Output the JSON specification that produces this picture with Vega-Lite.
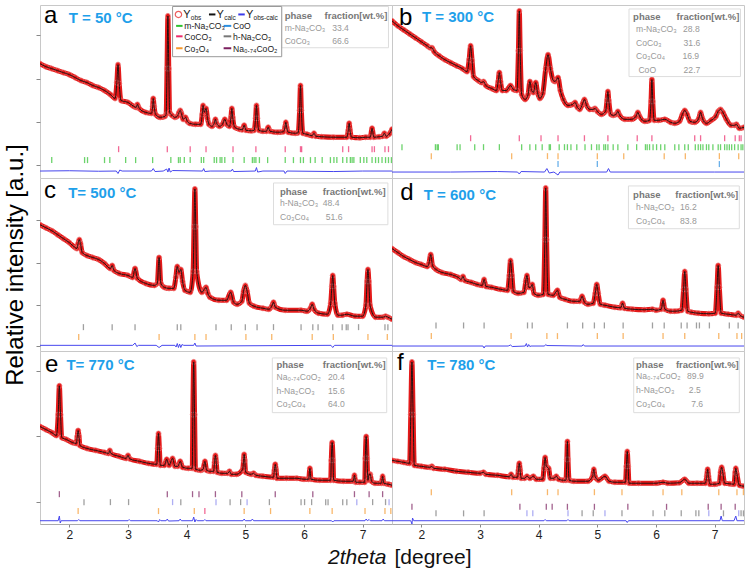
{
"$schema":"https://vega.github.io/schema/vega-lite/v6.json",
"padding":{"left":2,"top":3,"right":2,"bottom":2},
"config":{"view":{"stroke":"#c8c8c8"},"font":"Liberation Sans"},
"datasets":{
"d":[
{"p":"a","k":"pr","x":1.5,"y":115},{"p":"a","k":"pr","x":1.6,"y":112},{"p":"a","k":"pr","x":1.7,"y":110},{"p":"a","k":"pr","x":1.8,"y":108},{"p":"a","k":"pr","x":1.9,"y":106},{"p":"a","k":"pr","x":2.0,"y":104},{"p":"a","k":"pr","x":2.1,"y":101},{"p":"a","k":"pr","x":2.2,"y":98},{"p":"a","k":"pr","x":2.3,"y":96},{"p":"a","k":"pr","x":2.4,"y":93},{"p":"a","k":"pr","x":2.5,"y":91},{"p":"a","k":"pr","x":2.6,"y":88},{"p":"a","k":"pr","x":2.7,"y":84},{"p":"a","k":"pr","x":2.78,"y":80},{"p":"a","k":"pr","x":2.81,"y":96},{"p":"a","k":"pr","x":2.83,"y":114},{"p":"a","k":"pr","x":2.85,"y":95},{"p":"a","k":"pr","x":2.88,"y":78},{"p":"a","k":"pr","x":3.0,"y":76},{"p":"a","k":"pr","x":3.1,"y":72},{"p":"a","k":"pr","x":3.14,"y":71},{"p":"a","k":"pr","x":3.16,"y":74},{"p":"a","k":"pr","x":3.19,"y":70},{"p":"a","k":"pr","x":3.3,"y":66},{"p":"a","k":"pr","x":3.4,"y":65},{"p":"a","k":"pr","x":3.42,"y":72},{"p":"a","k":"pr","x":3.43,"y":80},{"p":"a","k":"pr","x":3.445,"y":72},{"p":"a","k":"pr","x":3.47,"y":64},{"p":"a","k":"pr","x":3.55,"y":61},{"p":"a","k":"pr","x":3.63,"y":62},{"p":"a","k":"pr","x":3.65,"y":64},{"p":"a","k":"pr","x":3.665,"y":110},{"p":"a","k":"pr","x":3.68,"y":163},{"p":"a","k":"pr","x":3.695,"y":110},{"p":"a","k":"pr","x":3.71,"y":66},{"p":"a","k":"pr","x":3.75,"y":63},{"p":"a","k":"pr","x":3.8,"y":61},{"p":"a","k":"pr","x":3.84,"y":62},{"p":"a","k":"pr","x":3.87,"y":66},{"p":"a","k":"pr","x":3.89,"y":68},{"p":"a","k":"pr","x":3.91,"y":65},{"p":"a","k":"pr","x":3.94,"y":59},{"p":"a","k":"pr","x":3.98,"y":61},{"p":"a","k":"pr","x":4.01,"y":57},{"p":"a","k":"pr","x":4.05,"y":55},{"p":"a","k":"pr","x":4.15,"y":54},{"p":"a","k":"pr","x":4.24,"y":54},{"p":"a","k":"pr","x":4.265,"y":64},{"p":"a","k":"pr","x":4.28,"y":73},{"p":"a","k":"pr","x":4.3,"y":66},{"p":"a","k":"pr","x":4.33,"y":70},{"p":"a","k":"pr","x":4.355,"y":60},{"p":"a","k":"pr","x":4.38,"y":54},{"p":"a","k":"pr","x":4.43,"y":52},{"p":"a","k":"pr","x":4.47,"y":55},{"p":"a","k":"pr","x":4.49,"y":59},{"p":"a","k":"pr","x":4.51,"y":55},{"p":"a","k":"pr","x":4.56,"y":52},{"p":"a","k":"pr","x":4.61,"y":54},{"p":"a","k":"pr","x":4.65,"y":59},{"p":"a","k":"pr","x":4.685,"y":54},{"p":"a","k":"pr","x":4.73,"y":52},{"p":"a","k":"pr","x":4.755,"y":61},{"p":"a","k":"pr","x":4.77,"y":70},{"p":"a","k":"pr","x":4.785,"y":61},{"p":"a","k":"pr","x":4.82,"y":51},{"p":"a","k":"pr","x":4.9,"y":49},{"p":"a","k":"pr","x":4.95,"y":48.5},{"p":"a","k":"pr","x":4.98,"y":53},{"p":"a","k":"pr","x":5.01,"y":48},{"p":"a","k":"pr","x":5.1,"y":47.5},{"p":"a","k":"pr","x":5.15,"y":48},{"p":"a","k":"pr","x":5.175,"y":60},{"p":"a","k":"pr","x":5.19,"y":73},{"p":"a","k":"pr","x":5.205,"y":60},{"p":"a","k":"pr","x":5.23,"y":48},{"p":"a","k":"pr","x":5.3,"y":47},{"p":"a","k":"pr","x":5.36,"y":47},{"p":"a","k":"pr","x":5.39,"y":51},{"p":"a","k":"pr","x":5.42,"y":47},{"p":"a","k":"pr","x":5.55,"y":46},{"p":"a","k":"pr","x":5.65,"y":46.5},{"p":"a","k":"pr","x":5.675,"y":51},{"p":"a","k":"pr","x":5.69,"y":56},{"p":"a","k":"pr","x":5.705,"y":51},{"p":"a","k":"pr","x":5.73,"y":46},{"p":"a","k":"pr","x":5.85,"y":45},{"p":"a","k":"pr","x":5.9,"y":45.5},{"p":"a","k":"pr","x":5.925,"y":68},{"p":"a","k":"pr","x":5.94,"y":93},{"p":"a","k":"pr","x":5.955,"y":68},{"p":"a","k":"pr","x":5.98,"y":45},{"p":"a","k":"pr","x":6.05,"y":44},{"p":"a","k":"pr","x":6.14,"y":42.5},{"p":"a","k":"pr","x":6.17,"y":45},{"p":"a","k":"pr","x":6.2,"y":42},{"p":"a","k":"pr","x":6.3,"y":41.5},{"p":"a","k":"pr","x":6.5,"y":41},{"p":"a","k":"pr","x":6.73,"y":41},{"p":"a","k":"pr","x":6.755,"y":48},{"p":"a","k":"pr","x":6.77,"y":55},{"p":"a","k":"pr","x":6.785,"y":48},{"p":"a","k":"pr","x":6.81,"y":41},{"p":"a","k":"pr","x":6.95,"y":40.5},{"p":"a","k":"pr","x":7.05,"y":41},{"p":"a","k":"pr","x":7.13,"y":41},{"p":"a","k":"pr","x":7.16,"y":50},{"p":"a","k":"pr","x":7.19,"y":41},{"p":"a","k":"pr","x":7.28,"y":41.5},{"p":"a","k":"pr","x":7.34,"y":42},{"p":"a","k":"pr","x":7.37,"y":45},{"p":"a","k":"pr","x":7.4,"y":42},{"p":"a","k":"pr","x":7.45,"y":44},{"p":"a","k":"pr","x":7.5,"y":49},
{"p":"a","k":"dif","x":1.5,"y":7},{"p":"a","k":"dif","x":2.0,"y":7.3},{"p":"a","k":"dif","x":2.5,"y":6.8},{"p":"a","k":"dif","x":2.8,"y":7},{"p":"a","k":"dif","x":2.83,"y":4.5},{"p":"a","k":"dif","x":2.86,"y":8},{"p":"a","k":"dif","x":2.9,"y":7},{"p":"a","k":"dif","x":3.4,"y":7},{"p":"a","k":"dif","x":3.43,"y":9.5},{"p":"a","k":"dif","x":3.46,"y":6.5},{"p":"a","k":"dif","x":3.6,"y":7},{"p":"a","k":"dif","x":3.66,"y":9},{"p":"a","k":"dif","x":3.68,"y":6},{"p":"a","k":"dif","x":3.7,"y":10},{"p":"a","k":"dif","x":3.72,"y":6},{"p":"a","k":"dif","x":3.76,"y":7.5},{"p":"a","k":"dif","x":4.27,"y":7},{"p":"a","k":"dif","x":4.29,"y":9.5},{"p":"a","k":"dif","x":4.31,"y":6.5},{"p":"a","k":"dif","x":4.4,"y":7},{"p":"a","k":"dif","x":4.76,"y":7},{"p":"a","k":"dif","x":4.78,"y":9},{"p":"a","k":"dif","x":4.8,"y":6.5},{"p":"a","k":"dif","x":5.17,"y":7},{"p":"a","k":"dif","x":5.19,"y":10.5},{"p":"a","k":"dif","x":5.21,"y":6},{"p":"a","k":"dif","x":5.3,"y":7},{"p":"a","k":"dif","x":5.66,"y":7},{"p":"a","k":"dif","x":5.68,"y":4.5},{"p":"a","k":"dif","x":5.71,"y":7},{"p":"a","k":"dif","x":6.5,"y":6.5},{"p":"a","k":"dif","x":7.0,"y":7},{"p":"a","k":"dif","x":7.5,"y":7},
{"p":"a","k":"tk","ph":"CoCO3","x":2.84,"y":29},{"p":"a","k":"tk","ph":"CoCO3","x":3.67,"y":29},{"p":"a","k":"tk","ph":"CoCO3","x":4.06,"y":29},{"p":"a","k":"tk","ph":"CoCO3","x":4.33,"y":29},{"p":"a","k":"tk","ph":"CoCO3","x":4.79,"y":29},{"p":"a","k":"tk","ph":"CoCO3","x":5.18,"y":29},{"p":"a","k":"tk","ph":"CoCO3","x":5.68,"y":29},{"p":"a","k":"tk","ph":"CoCO3","x":5.94,"y":29},{"p":"a","k":"tk","ph":"CoCO3","x":5.96,"y":29},{"p":"a","k":"tk","ph":"CoCO3","x":6.66,"y":29},{"p":"a","k":"tk","ph":"CoCO3","x":6.76,"y":29},{"p":"a","k":"tk","ph":"CoCO3","x":7.16,"y":29},{"p":"a","k":"tk","ph":"CoCO3","x":7.2,"y":29},{"p":"a","k":"tk","ph":"CoCO3","x":7.38,"y":29},{"p":"a","k":"tk","ph":"CoCO3","x":7.44,"y":29},
{"p":"a","k":"tk","ph":"m-Na2CO3","x":1.7,"y":18},{"p":"a","k":"tk","ph":"m-Na2CO3","x":2.26,"y":18},{"p":"a","k":"tk","ph":"m-Na2CO3","x":2.31,"y":18},{"p":"a","k":"tk","ph":"m-Na2CO3","x":2.6,"y":18},{"p":"a","k":"tk","ph":"m-Na2CO3","x":2.69,"y":18},{"p":"a","k":"tk","ph":"m-Na2CO3","x":2.96,"y":18},{"p":"a","k":"tk","ph":"m-Na2CO3","x":3.13,"y":18},{"p":"a","k":"tk","ph":"m-Na2CO3","x":3.42,"y":18},{"p":"a","k":"tk","ph":"m-Na2CO3","x":3.73,"y":18},{"p":"a","k":"tk","ph":"m-Na2CO3","x":3.86,"y":18},{"p":"a","k":"tk","ph":"m-Na2CO3","x":3.89,"y":18},{"p":"a","k":"tk","ph":"m-Na2CO3","x":3.96,"y":18},{"p":"a","k":"tk","ph":"m-Na2CO3","x":4.06,"y":18},{"p":"a","k":"tk","ph":"m-Na2CO3","x":4.25,"y":18},{"p":"a","k":"tk","ph":"m-Na2CO3","x":4.29,"y":18},{"p":"a","k":"tk","ph":"m-Na2CO3","x":4.47,"y":18},{"p":"a","k":"tk","ph":"m-Na2CO3","x":4.51,"y":18},{"p":"a","k":"tk","ph":"m-Na2CO3","x":4.57,"y":18},{"p":"a","k":"tk","ph":"m-Na2CO3","x":4.6,"y":18},{"p":"a","k":"tk","ph":"m-Na2CO3","x":4.65,"y":18},{"p":"a","k":"tk","ph":"m-Na2CO3","x":4.79,"y":18},{"p":"a","k":"tk","ph":"m-Na2CO3","x":4.98,"y":18},{"p":"a","k":"tk","ph":"m-Na2CO3","x":5.12,"y":18},{"p":"a","k":"tk","ph":"m-Na2CO3","x":5.15,"y":18},{"p":"a","k":"tk","ph":"m-Na2CO3","x":5.18,"y":18},{"p":"a","k":"tk","ph":"m-Na2CO3","x":5.24,"y":18},{"p":"a","k":"tk","ph":"m-Na2CO3","x":5.38,"y":18},{"p":"a","k":"tk","ph":"m-Na2CO3","x":5.68,"y":18},{"p":"a","k":"tk","ph":"m-Na2CO3","x":5.82,"y":18},{"p":"a","k":"tk","ph":"m-Na2CO3","x":5.94,"y":18},{"p":"a","k":"tk","ph":"m-Na2CO3","x":5.99,"y":18},{"p":"a","k":"tk","ph":"m-Na2CO3","x":6.11,"y":18},{"p":"a","k":"tk","ph":"m-Na2CO3","x":6.19,"y":18},{"p":"a","k":"tk","ph":"m-Na2CO3","x":6.31,"y":18},{"p":"a","k":"tk","ph":"m-Na2CO3","x":6.45,"y":18},{"p":"a","k":"tk","ph":"m-Na2CO3","x":6.51,"y":18},{"p":"a","k":"tk","ph":"m-Na2CO3","x":6.56,"y":18},{"p":"a","k":"tk","ph":"m-Na2CO3","x":6.66,"y":18},{"p":"a","k":"tk","ph":"m-Na2CO3","x":6.73,"y":18},{"p":"a","k":"tk","ph":"m-Na2CO3","x":6.79,"y":18},{"p":"a","k":"tk","ph":"m-Na2CO3","x":6.82,"y":18},{"p":"a","k":"tk","ph":"m-Na2CO3","x":6.85,"y":18},{"p":"a","k":"tk","ph":"m-Na2CO3","x":6.96,"y":18},{"p":"a","k":"tk","ph":"m-Na2CO3","x":7.02,"y":18},{"p":"a","k":"tk","ph":"m-Na2CO3","x":7.07,"y":18},{"p":"a","k":"tk","ph":"m-Na2CO3","x":7.16,"y":18},{"p":"a","k":"tk","ph":"m-Na2CO3","x":7.22,"y":18},{"p":"a","k":"tk","ph":"m-Na2CO3","x":7.27,"y":18},{"p":"a","k":"tk","ph":"m-Na2CO3","x":7.33,"y":18},{"p":"a","k":"tk","ph":"m-Na2CO3","x":7.39,"y":18},{"p":"a","k":"tk","ph":"m-Na2CO3","x":7.44,"y":18},{"p":"a","k":"tk","ph":"m-Na2CO3","x":7.49,"y":18},
{"p":"a","k":"box","x":5.62,"x2":7.44,"y":131,"y2":172.5},{"p":"a","k":"lbox","x":3.76,"x2":5.62,"y":122,"y2":172.5},
{"p":"a","k":"let","x":1.57,"y":156,"t":"a"},{"p":"a","k":"tmp","x":1.99,"y":156,"t":"T = 50 °C"},
{"p":"a","k":"hd","x":5.67,"y":160,"t":"phase"},{"p":"a","k":"hd","x":6.35,"y":160,"t":"fraction[wt.%]"},
{"p":"a","k":"tb","x":5.67,"y":148,"t":"m-Na₂CO₃"},{"p":"a","k":"tb","x":6.48,"y":148,"t":"33.4"},{"p":"a","k":"tb","x":5.67,"y":135,"t":"CoCo₃"},{"p":"a","k":"tb","x":6.48,"y":135,"t":"66.6"},
{"p":"a","k":"lgc","x":3.86,"y":164.5},
{"p":"a","k":"lgl","ph":"Ycalc","x":4.38,"x2":4.49,"y":164.5},{"p":"a","k":"lgl","ph":"Yobs-calc","x":4.88,"x2":4.99,"y":164.5},
{"p":"a","k":"lgl","ph":"m-Na2CO3","x":3.82,"x2":3.93,"y":153},{"p":"a","k":"lgl","ph":"CoO","x":4.63,"x2":4.76,"y":153},
{"p":"a","k":"lgl","ph":"CoCO3","x":3.82,"x2":3.93,"y":142.5},{"p":"a","k":"lgl","ph":"h-Na2CO3","x":4.63,"x2":4.76,"y":142.5},
{"p":"a","k":"lgl","ph":"Co3O4","x":3.82,"x2":3.93,"y":130.5},{"p":"a","k":"lgl","ph":"Na0.74CoO2","x":4.63,"x2":4.76,"y":130.5},
{"p":"a","k":"lgY","x":3.94,"y":161,"t":"Y"},{"p":"a","k":"lgY","x":4.51,"y":161,"t":"Y"},{"p":"a","k":"lgY","x":5.01,"y":161,"t":"Y"},
{"p":"a","k":"lgs","x":4.07,"y":159,"t":"obs"},{"p":"a","k":"lgs","x":4.64,"y":159,"t":"calc"},{"p":"a","k":"lgs","x":5.14,"y":159,"t":"obs-calc"},
{"p":"a","k":"lg","x":3.96,"y":150,"t":"m-Na₂CO₃"},{"p":"a","k":"lg","x":4.79,"y":150,"t":"CoO"},{"p":"a","k":"lg","x":3.96,"y":138.7,"t":"CoCO₃"},{"p":"a","k":"lg","x":4.79,"y":138.7,"t":"h-Na₂CO₃"},{"p":"a","k":"lg","x":3.96,"y":126.7,"t":"Co₃O₄"},{"p":"a","k":"lg","x":4.79,"y":126.7,"t":"Na₀.₇₄CoO₂"},

{"p":"b","k":"pr","x":1.5,"y":158},{"p":"b","k":"pr","x":1.6,"y":153},{"p":"b","k":"pr","x":1.7,"y":149},{"p":"b","k":"pr","x":1.8,"y":145},{"p":"b","k":"pr","x":1.9,"y":141},{"p":"b","k":"pr","x":2.0,"y":137},{"p":"b","k":"pr","x":2.1,"y":133},{"p":"b","k":"pr","x":2.15,"y":131},{"p":"b","k":"pr","x":2.18,"y":131},{"p":"b","k":"pr","x":2.22,"y":127},{"p":"b","k":"pr","x":2.3,"y":123},{"p":"b","k":"pr","x":2.4,"y":119},{"p":"b","k":"pr","x":2.5,"y":116},{"p":"b","k":"pr","x":2.6,"y":113},{"p":"b","k":"pr","x":2.7,"y":110},{"p":"b","k":"pr","x":2.78,"y":107},{"p":"b","k":"pr","x":2.815,"y":119},{"p":"b","k":"pr","x":2.84,"y":133},{"p":"b","k":"pr","x":2.865,"y":118},{"p":"b","k":"pr","x":2.89,"y":102},{"p":"b","k":"pr","x":2.97,"y":98},{"p":"b","k":"pr","x":3.03,"y":96},{"p":"b","k":"pr","x":3.06,"y":97},{"p":"b","k":"pr","x":3.1,"y":93},{"p":"b","k":"pr","x":3.2,"y":90},{"p":"b","k":"pr","x":3.28,"y":88},{"p":"b","k":"pr","x":3.31,"y":97},{"p":"b","k":"pr","x":3.33,"y":106},{"p":"b","k":"pr","x":3.35,"y":97},{"p":"b","k":"pr","x":3.38,"y":88},{"p":"b","k":"pr","x":3.45,"y":88},{"p":"b","k":"pr","x":3.52,"y":93},{"p":"b","k":"pr","x":3.57,"y":89},{"p":"b","k":"pr","x":3.63,"y":88},{"p":"b","k":"pr","x":3.655,"y":128},{"p":"b","k":"pr","x":3.67,"y":168},{"p":"b","k":"pr","x":3.685,"y":128},{"p":"b","k":"pr","x":3.71,"y":84},{"p":"b","k":"pr","x":3.77,"y":79},{"p":"b","k":"pr","x":3.82,"y":84},{"p":"b","k":"pr","x":3.85,"y":97},{"p":"b","k":"pr","x":3.88,"y":88},{"p":"b","k":"pr","x":3.91,"y":86},{"p":"b","k":"pr","x":3.95,"y":96},{"p":"b","k":"pr","x":3.98,"y":86},{"p":"b","k":"pr","x":4.02,"y":80},{"p":"b","k":"pr","x":4.07,"y":85},{"p":"b","k":"pr","x":4.12,"y":110},{"p":"b","k":"pr","x":4.16,"y":124},{"p":"b","k":"pr","x":4.2,"y":110},{"p":"b","k":"pr","x":4.25,"y":98},{"p":"b","k":"pr","x":4.28,"y":97},{"p":"b","k":"pr","x":4.33,"y":101},{"p":"b","k":"pr","x":4.37,"y":88},{"p":"b","k":"pr","x":4.42,"y":79},{"p":"b","k":"pr","x":4.5,"y":73},{"p":"b","k":"pr","x":4.58,"y":74},{"p":"b","k":"pr","x":4.62,"y":76},{"p":"b","k":"pr","x":4.66,"y":71},{"p":"b","k":"pr","x":4.7,"y":69},{"p":"b","k":"pr","x":4.75,"y":75},{"p":"b","k":"pr","x":4.78,"y":79},{"p":"b","k":"pr","x":4.81,"y":74},{"p":"b","k":"pr","x":4.87,"y":69},{"p":"b","k":"pr","x":4.93,"y":69},{"p":"b","k":"pr","x":4.96,"y":70},{"p":"b","k":"pr","x":5.0,"y":67},{"p":"b","k":"pr","x":5.07,"y":64},{"p":"b","k":"pr","x":5.14,"y":67},{"p":"b","k":"pr","x":5.165,"y":78},{"p":"b","k":"pr","x":5.18,"y":87},{"p":"b","k":"pr","x":5.195,"y":78},{"p":"b","k":"pr","x":5.23,"y":64},{"p":"b","k":"pr","x":5.27,"y":63},{"p":"b","k":"pr","x":5.32,"y":64},{"p":"b","k":"pr","x":5.35,"y":67},{"p":"b","k":"pr","x":5.38,"y":63},{"p":"b","k":"pr","x":5.47,"y":59},{"p":"b","k":"pr","x":5.58,"y":59},{"p":"b","k":"pr","x":5.66,"y":62},{"p":"b","k":"pr","x":5.69,"y":66},{"p":"b","k":"pr","x":5.72,"y":62},{"p":"b","k":"pr","x":5.81,"y":57},{"p":"b","k":"pr","x":5.89,"y":58},{"p":"b","k":"pr","x":5.915,"y":77},{"p":"b","k":"pr","x":5.93,"y":99},{"p":"b","k":"pr","x":5.945,"y":77},{"p":"b","k":"pr","x":5.97,"y":58},{"p":"b","k":"pr","x":6.04,"y":58},{"p":"b","k":"pr","x":6.15,"y":59},{"p":"b","k":"pr","x":6.25,"y":56},{"p":"b","k":"pr","x":6.32,"y":55},{"p":"b","k":"pr","x":6.4,"y":57},{"p":"b","k":"pr","x":6.45,"y":64},{"p":"b","k":"pr","x":6.49,"y":68},{"p":"b","k":"pr","x":6.53,"y":64},{"p":"b","k":"pr","x":6.58,"y":57},{"p":"b","k":"pr","x":6.66,"y":56},{"p":"b","k":"pr","x":6.73,"y":60},{"p":"b","k":"pr","x":6.76,"y":66},{"p":"b","k":"pr","x":6.79,"y":60},{"p":"b","k":"pr","x":6.86,"y":55},{"p":"b","k":"pr","x":6.94,"y":58},{"p":"b","k":"pr","x":7.02,"y":62},{"p":"b","k":"pr","x":7.06,"y":67},{"p":"b","k":"pr","x":7.1,"y":69},{"p":"b","k":"pr","x":7.14,"y":66},{"p":"b","k":"pr","x":7.2,"y":59},{"p":"b","k":"pr","x":7.28,"y":53},{"p":"b","k":"pr","x":7.34,"y":53},{"p":"b","k":"pr","x":7.37,"y":54},{"p":"b","k":"pr","x":7.42,"y":50},{"p":"b","k":"pr","x":7.5,"y":51},
{"p":"b","k":"dif","x":1.5,"y":6},{"p":"b","k":"dif","x":2.5,"y":6},{"p":"b","k":"dif","x":3.3,"y":6.5},{"p":"b","k":"dif","x":3.64,"y":6},{"p":"b","k":"dif","x":3.67,"y":4},{"p":"b","k":"dif","x":3.7,"y":6.5},{"p":"b","k":"dif","x":4.1,"y":6},{"p":"b","k":"dif","x":4.14,"y":9.5},{"p":"b","k":"dif","x":4.18,"y":5},{"p":"b","k":"dif","x":4.26,"y":6},{"p":"b","k":"dif","x":4.33,"y":3},{"p":"b","k":"dif","x":4.36,"y":6},{"p":"b","k":"dif","x":5.16,"y":6},{"p":"b","k":"dif","x":5.19,"y":9.5},{"p":"b","k":"dif","x":5.22,"y":6},{"p":"b","k":"dif","x":6.0,"y":6},{"p":"b","k":"dif","x":7.0,"y":6},{"p":"b","k":"dif","x":7.5,"y":6},
{"p":"b","k":"tk","ph":"CoCO3","x":2.84,"y":40},{"p":"b","k":"tk","ph":"CoCO3","x":3.67,"y":40},{"p":"b","k":"tk","ph":"CoCO3","x":4.04,"y":40},{"p":"b","k":"tk","ph":"CoCO3","x":4.33,"y":40},{"p":"b","k":"tk","ph":"CoCO3","x":4.78,"y":40},{"p":"b","k":"tk","ph":"CoCO3","x":5.18,"y":40},{"p":"b","k":"tk","ph":"CoCO3","x":5.68,"y":40},{"p":"b","k":"tk","ph":"CoCO3","x":5.93,"y":40},{"p":"b","k":"tk","ph":"CoCO3","x":6.66,"y":40},{"p":"b","k":"tk","ph":"CoCO3","x":6.76,"y":40},{"p":"b","k":"tk","ph":"CoCO3","x":7.17,"y":40},{"p":"b","k":"tk","ph":"CoCO3","x":7.35,"y":40},{"p":"b","k":"tk","ph":"CoCO3","x":7.42,"y":40},{"p":"b","k":"tk","ph":"CoCO3","x":7.45,"y":40},
{"p":"b","k":"tk","ph":"m-Na2CO3","x":1.67,"y":31},{"p":"b","k":"tk","ph":"m-Na2CO3","x":2.24,"y":31},{"p":"b","k":"tk","ph":"m-Na2CO3","x":2.27,"y":31},{"p":"b","k":"tk","ph":"m-Na2CO3","x":2.29,"y":31},{"p":"b","k":"tk","ph":"m-Na2CO3","x":2.61,"y":31},{"p":"b","k":"tk","ph":"m-Na2CO3","x":2.66,"y":31},{"p":"b","k":"tk","ph":"m-Na2CO3","x":2.91,"y":31},{"p":"b","k":"tk","ph":"m-Na2CO3","x":3.06,"y":31},{"p":"b","k":"tk","ph":"m-Na2CO3","x":3.33,"y":31},{"p":"b","k":"tk","ph":"m-Na2CO3","x":3.71,"y":31},{"p":"b","k":"tk","ph":"m-Na2CO3","x":3.85,"y":31},{"p":"b","k":"tk","ph":"m-Na2CO3","x":3.95,"y":31},{"p":"b","k":"tk","ph":"m-Na2CO3","x":4.06,"y":31},{"p":"b","k":"tk","ph":"m-Na2CO3","x":4.18,"y":31},{"p":"b","k":"tk","ph":"m-Na2CO3","x":4.2,"y":31},{"p":"b","k":"tk","ph":"m-Na2CO3","x":4.35,"y":31},{"p":"b","k":"tk","ph":"m-Na2CO3","x":4.44,"y":31},{"p":"b","k":"tk","ph":"m-Na2CO3","x":4.49,"y":31},{"p":"b","k":"tk","ph":"m-Na2CO3","x":4.55,"y":31},{"p":"b","k":"tk","ph":"m-Na2CO3","x":4.65,"y":31},{"p":"b","k":"tk","ph":"m-Na2CO3","x":4.79,"y":31},{"p":"b","k":"tk","ph":"m-Na2CO3","x":4.9,"y":31},{"p":"b","k":"tk","ph":"m-Na2CO3","x":4.99,"y":31},{"p":"b","k":"tk","ph":"m-Na2CO3","x":5.03,"y":31},{"p":"b","k":"tk","ph":"m-Na2CO3","x":5.11,"y":31},{"p":"b","k":"tk","ph":"m-Na2CO3","x":5.14,"y":31},{"p":"b","k":"tk","ph":"m-Na2CO3","x":5.18,"y":31},{"p":"b","k":"tk","ph":"m-Na2CO3","x":5.27,"y":31},{"p":"b","k":"tk","ph":"m-Na2CO3","x":5.35,"y":31},{"p":"b","k":"tk","ph":"m-Na2CO3","x":5.52,"y":31},{"p":"b","k":"tk","ph":"m-Na2CO3","x":5.67,"y":31},{"p":"b","k":"tk","ph":"m-Na2CO3","x":5.82,"y":31},{"p":"b","k":"tk","ph":"m-Na2CO3","x":5.85,"y":31},{"p":"b","k":"tk","ph":"m-Na2CO3","x":5.89,"y":31},{"p":"b","k":"tk","ph":"m-Na2CO3","x":5.95,"y":31},{"p":"b","k":"tk","ph":"m-Na2CO3","x":6.01,"y":31},{"p":"b","k":"tk","ph":"m-Na2CO3","x":6.08,"y":31},{"p":"b","k":"tk","ph":"m-Na2CO3","x":6.15,"y":31},{"p":"b","k":"tk","ph":"m-Na2CO3","x":6.32,"y":31},{"p":"b","k":"tk","ph":"m-Na2CO3","x":6.39,"y":31},{"p":"b","k":"tk","ph":"m-Na2CO3","x":6.49,"y":31},{"p":"b","k":"tk","ph":"m-Na2CO3","x":6.55,"y":31},{"p":"b","k":"tk","ph":"m-Na2CO3","x":6.67,"y":31},{"p":"b","k":"tk","ph":"m-Na2CO3","x":6.72,"y":31},{"p":"b","k":"tk","ph":"m-Na2CO3","x":6.76,"y":31},{"p":"b","k":"tk","ph":"m-Na2CO3","x":6.8,"y":31},{"p":"b","k":"tk","ph":"m-Na2CO3","x":6.86,"y":31},{"p":"b","k":"tk","ph":"m-Na2CO3","x":6.9,"y":31},{"p":"b","k":"tk","ph":"m-Na2CO3","x":6.97,"y":31},{"p":"b","k":"tk","ph":"m-Na2CO3","x":7.06,"y":31},{"p":"b","k":"tk","ph":"m-Na2CO3","x":7.1,"y":31},{"p":"b","k":"tk","ph":"m-Na2CO3","x":7.17,"y":31},{"p":"b","k":"tk","ph":"m-Na2CO3","x":7.21,"y":31},{"p":"b","k":"tk","ph":"m-Na2CO3","x":7.25,"y":31},{"p":"b","k":"tk","ph":"m-Na2CO3","x":7.29,"y":31},{"p":"b","k":"tk","ph":"m-Na2CO3","x":7.34,"y":31},{"p":"b","k":"tk","ph":"m-Na2CO3","x":7.4,"y":31},{"p":"b","k":"tk","ph":"m-Na2CO3","x":7.45,"y":31},{"p":"b","k":"tk","ph":"m-Na2CO3","x":7.48,"y":31},
{"p":"b","k":"tk","ph":"Co3O4","x":2.17,"y":22},{"p":"b","k":"tk","ph":"Co3O4","x":3.54,"y":22},{"p":"b","k":"tk","ph":"Co3O4","x":4.15,"y":22},{"p":"b","k":"tk","ph":"Co3O4","x":4.33,"y":22},{"p":"b","k":"tk","ph":"Co3O4","x":5.0,"y":22},{"p":"b","k":"tk","ph":"Co3O4","x":5.45,"y":22},{"p":"b","k":"tk","ph":"Co3O4","x":6.14,"y":22},{"p":"b","k":"tk","ph":"Co3O4","x":6.5,"y":22},{"p":"b","k":"tk","ph":"Co3O4","x":7.08,"y":22},{"p":"b","k":"tk","ph":"Co3O4","x":7.41,"y":22},
{"p":"b","k":"tk","ph":"CoO","x":4.33,"y":14},{"p":"b","k":"tk","ph":"CoO","x":5.0,"y":14},{"p":"b","k":"tk","ph":"CoO","x":7.08,"y":14},
{"p":"b","k":"box","x":5.54,"x2":7.44,"y":102,"y2":170},
{"p":"b","k":"let","x":1.62,"y":154,"t":"b"},{"p":"b","k":"tmp","x":2.01,"y":157,"t":"T = 300 °C"},
{"p":"b","k":"hd","x":5.61,"y":158.7,"t":"phase"},{"p":"b","k":"hd","x":6.35,"y":158.7,"t":"fraction[wt.%]"},
{"p":"b","k":"tb","x":5.66,"y":146.7,"t":"m-Na₂CO₃"},{"p":"b","k":"tb","x":6.46,"y":146.7,"t":"28.8"},{"p":"b","k":"tb","x":5.66,"y":132.7,"t":"CoCo₃"},{"p":"b","k":"tb","x":6.47,"y":132.7,"t":"31.6"},{"p":"b","k":"tb","x":5.66,"y":120,"t":"Co₃Co₄"},{"p":"b","k":"tb","x":6.45,"y":120,"t":"16.9"},{"p":"b","k":"tb","x":5.7,"y":106,"t":"CoO"},{"p":"b","k":"tb","x":6.47,"y":106,"t":"22.7"},

{"p":"c","k":"pr","x":1.5,"y":127},{"p":"c","k":"pr","x":1.6,"y":124},{"p":"c","k":"pr","x":1.7,"y":121},{"p":"c","k":"pr","x":1.8,"y":117},{"p":"c","k":"pr","x":1.9,"y":113},{"p":"c","k":"pr","x":2.0,"y":109},{"p":"c","k":"pr","x":2.1,"y":104},{"p":"c","k":"pr","x":2.13,"y":103},{"p":"c","k":"pr","x":2.15,"y":108},{"p":"c","k":"pr","x":2.17,"y":112},{"p":"c","k":"pr","x":2.19,"y":108},{"p":"c","k":"pr","x":2.22,"y":99},{"p":"c","k":"pr","x":2.3,"y":96},{"p":"c","k":"pr","x":2.4,"y":94},{"p":"c","k":"pr","x":2.5,"y":92},{"p":"c","k":"pr","x":2.6,"y":88},{"p":"c","k":"pr","x":2.7,"y":83},{"p":"c","k":"pr","x":2.73,"y":86},{"p":"c","k":"pr","x":2.76,"y":81},{"p":"c","k":"pr","x":2.85,"y":78},{"p":"c","k":"pr","x":3.0,"y":76},{"p":"c","k":"pr","x":3.08,"y":74},{"p":"c","k":"pr","x":3.12,"y":83},{"p":"c","k":"pr","x":3.16,"y":73},{"p":"c","k":"pr","x":3.3,"y":68},{"p":"c","k":"pr","x":3.45,"y":66},{"p":"c","k":"pr","x":3.5,"y":68},{"p":"c","k":"pr","x":3.53,"y":94},{"p":"c","k":"pr","x":3.56,"y":68},{"p":"c","k":"pr","x":3.62,"y":64},{"p":"c","k":"pr","x":3.7,"y":63},{"p":"c","k":"pr","x":3.78,"y":63},{"p":"c","k":"pr","x":3.815,"y":74},{"p":"c","k":"pr","x":3.84,"y":85},{"p":"c","k":"pr","x":3.87,"y":79},{"p":"c","k":"pr","x":3.9,"y":82},{"p":"c","k":"pr","x":3.93,"y":70},{"p":"c","k":"pr","x":3.97,"y":61},{"p":"c","k":"pr","x":4.06,"y":59},{"p":"c","k":"pr","x":4.11,"y":80},{"p":"c","k":"pr","x":4.125,"y":125},{"p":"c","k":"pr","x":4.14,"y":163},{"p":"c","k":"pr","x":4.155,"y":125},{"p":"c","k":"pr","x":4.17,"y":80},{"p":"c","k":"pr","x":4.26,"y":59},{"p":"c","k":"pr","x":4.3,"y":62},{"p":"c","k":"pr","x":4.33,"y":64},{"p":"c","k":"pr","x":4.36,"y":58},{"p":"c","k":"pr","x":4.4,"y":54},{"p":"c","k":"pr","x":4.55,"y":51},{"p":"c","k":"pr","x":4.68,"y":51},{"p":"c","k":"pr","x":4.75,"y":59},{"p":"c","k":"pr","x":4.8,"y":49},{"p":"c","k":"pr","x":4.86,"y":47},{"p":"c","k":"pr","x":4.94,"y":50},{"p":"c","k":"pr","x":4.97,"y":60},{"p":"c","k":"pr","x":5.0,"y":66},{"p":"c","k":"pr","x":5.03,"y":60},{"p":"c","k":"pr","x":5.07,"y":48},{"p":"c","k":"pr","x":5.15,"y":45},{"p":"c","k":"pr","x":5.3,"y":43},{"p":"c","k":"pr","x":5.4,"y":42},{"p":"c","k":"pr","x":5.45,"y":45},{"p":"c","k":"pr","x":5.48,"y":49},{"p":"c","k":"pr","x":5.51,"y":44},{"p":"c","k":"pr","x":5.68,"y":41},{"p":"c","k":"pr","x":5.95,"y":41},{"p":"c","k":"pr","x":6.05,"y":40},{"p":"c","k":"pr","x":6.11,"y":43},{"p":"c","k":"pr","x":6.14,"y":47},{"p":"c","k":"pr","x":6.17,"y":42},{"p":"c","k":"pr","x":6.25,"y":38},{"p":"c","k":"pr","x":6.4,"y":37},{"p":"c","k":"pr","x":6.455,"y":48},{"p":"c","k":"pr","x":6.475,"y":65},{"p":"c","k":"pr","x":6.49,"y":76},{"p":"c","k":"pr","x":6.505,"y":65},{"p":"c","k":"pr","x":6.525,"y":48},{"p":"c","k":"pr","x":6.58,"y":36},{"p":"c","k":"pr","x":6.65,"y":36},{"p":"c","k":"pr","x":6.73,"y":37},{"p":"c","k":"pr","x":6.87,"y":35},{"p":"c","k":"pr","x":7.0,"y":35},{"p":"c","k":"pr","x":7.055,"y":46},{"p":"c","k":"pr","x":7.075,"y":70},{"p":"c","k":"pr","x":7.09,"y":82},{"p":"c","k":"pr","x":7.105,"y":70},{"p":"c","k":"pr","x":7.125,"y":46},{"p":"c","k":"pr","x":7.22,"y":34},{"p":"c","k":"pr","x":7.35,"y":34},{"p":"c","k":"pr","x":7.39,"y":35},{"p":"c","k":"pr","x":7.43,"y":34},{"p":"c","k":"pr","x":7.5,"y":32},
{"p":"c","k":"dif","x":1.5,"y":5.7},{"p":"c","k":"dif","x":3.08,"y":5.7},{"p":"c","k":"dif","x":3.12,"y":8},{"p":"c","k":"dif","x":3.15,"y":4.5},{"p":"c","k":"dif","x":3.18,"y":5.7},{"p":"c","k":"dif","x":3.48,"y":5.7},{"p":"c","k":"dif","x":3.53,"y":3.5},{"p":"c","k":"dif","x":3.58,"y":5.7},{"p":"c","k":"dif","x":3.8,"y":5.7},{"p":"c","k":"dif","x":3.82,"y":4},{"p":"c","k":"dif","x":3.84,"y":7.5},{"p":"c","k":"dif","x":3.86,"y":3.5},{"p":"c","k":"dif","x":3.88,"y":7},{"p":"c","k":"dif","x":3.9,"y":3.5},{"p":"c","k":"dif","x":3.92,"y":6.5},{"p":"c","k":"dif","x":3.95,"y":5.7},{"p":"c","k":"dif","x":4.12,"y":5.7},{"p":"c","k":"dif","x":4.14,"y":8},{"p":"c","k":"dif","x":4.16,"y":5},{"p":"c","k":"dif","x":6.46,"y":5.7},{"p":"c","k":"dif","x":6.49,"y":3.5},{"p":"c","k":"dif","x":6.52,"y":5.7},{"p":"c","k":"dif","x":7.5,"y":5.7},
{"p":"c","k":"tk","ph":"h-Na2CO3","x":2.24,"y":24},{"p":"c","k":"tk","ph":"h-Na2CO3","x":2.73,"y":24},{"p":"c","k":"tk","ph":"h-Na2CO3","x":3.12,"y":24},{"p":"c","k":"tk","ph":"h-Na2CO3","x":3.84,"y":24},{"p":"c","k":"tk","ph":"h-Na2CO3","x":3.9,"y":24},{"p":"c","k":"tk","ph":"h-Na2CO3","x":4.5,"y":24},{"p":"c","k":"tk","ph":"h-Na2CO3","x":4.76,"y":24},{"p":"c","k":"tk","ph":"h-Na2CO3","x":5.0,"y":24},{"p":"c","k":"tk","ph":"h-Na2CO3","x":5.2,"y":24},{"p":"c","k":"tk","ph":"h-Na2CO3","x":5.48,"y":24},{"p":"c","k":"tk","ph":"h-Na2CO3","x":5.95,"y":24},{"p":"c","k":"tk","ph":"h-Na2CO3","x":6.15,"y":24},{"p":"c","k":"tk","ph":"h-Na2CO3","x":6.24,"y":24},{"p":"c","k":"tk","ph":"h-Na2CO3","x":6.49,"y":24},{"p":"c","k":"tk","ph":"h-Na2CO3","x":6.65,"y":24},{"p":"c","k":"tk","ph":"h-Na2CO3","x":6.72,"y":24},{"p":"c","k":"tk","ph":"h-Na2CO3","x":6.75,"y":24},{"p":"c","k":"tk","ph":"h-Na2CO3","x":6.93,"y":24},{"p":"c","k":"tk","ph":"h-Na2CO3","x":7.38,"y":24},{"p":"c","k":"tk","ph":"h-Na2CO3","x":7.43,"y":24},
{"p":"c","k":"tk","ph":"Co3O4","x":2.16,"y":14},{"p":"c","k":"tk","ph":"Co3O4","x":3.53,"y":14},{"p":"c","k":"tk","ph":"Co3O4","x":4.14,"y":14},{"p":"c","k":"tk","ph":"Co3O4","x":4.33,"y":14},{"p":"c","k":"tk","ph":"Co3O4","x":5.01,"y":14},{"p":"c","k":"tk","ph":"Co3O4","x":5.45,"y":14},{"p":"c","k":"tk","ph":"Co3O4","x":6.14,"y":14},{"p":"c","k":"tk","ph":"Co3O4","x":6.5,"y":14},{"p":"c","k":"tk","ph":"Co3O4","x":7.09,"y":14},{"p":"c","k":"tk","ph":"Co3O4","x":7.42,"y":14},
{"p":"c","k":"box","x":5.48,"x2":7.43,"y":127,"y2":169},
{"p":"c","k":"let","x":1.57,"y":154,"t":"c"},{"p":"c","k":"tmp","x":1.98,"y":154,"t":"T= 500 °C"},
{"p":"c","k":"hd","x":5.59,"y":157,"t":"phase"},{"p":"c","k":"hd","x":6.32,"y":157,"t":"fraction[wt.%]"},
{"p":"c","k":"tb","x":5.59,"y":145.7,"t":"h-Na₂CO₃"},{"p":"c","k":"tb","x":6.32,"y":145.7,"t":"48.4"},{"p":"c","k":"tb","x":5.59,"y":132,"t":"Co₃Co₄"},{"p":"c","k":"tb","x":6.37,"y":132,"t":"51.6"},

{"p":"d","k":"pr","x":1.5,"y":103},{"p":"d","k":"pr","x":1.6,"y":99},{"p":"d","k":"pr","x":1.7,"y":95},{"p":"d","k":"pr","x":1.8,"y":92},{"p":"d","k":"pr","x":1.9,"y":89},{"p":"d","k":"pr","x":2.0,"y":87},{"p":"d","k":"pr","x":2.1,"y":85},{"p":"d","k":"pr","x":2.13,"y":88},{"p":"d","k":"pr","x":2.16,"y":97},{"p":"d","k":"pr","x":2.19,"y":86},{"p":"d","k":"pr","x":2.25,"y":82},{"p":"d","k":"pr","x":2.35,"y":79},{"p":"d","k":"pr","x":2.5,"y":77},{"p":"d","k":"pr","x":2.63,"y":74},{"p":"d","k":"pr","x":2.68,"y":72},{"p":"d","k":"pr","x":2.71,"y":75},{"p":"d","k":"pr","x":2.74,"y":71},{"p":"d","k":"pr","x":2.85,"y":69},{"p":"d","k":"pr","x":2.95,"y":67},{"p":"d","k":"pr","x":3.04,"y":66},{"p":"d","k":"pr","x":3.07,"y":72},{"p":"d","k":"pr","x":3.1,"y":65},{"p":"d","k":"pr","x":3.2,"y":64},{"p":"d","k":"pr","x":3.35,"y":62},{"p":"d","k":"pr","x":3.47,"y":61},{"p":"d","k":"pr","x":3.5,"y":76},{"p":"d","k":"pr","x":3.52,"y":91},{"p":"d","k":"pr","x":3.545,"y":76},{"p":"d","k":"pr","x":3.57,"y":60},{"p":"d","k":"pr","x":3.65,"y":58},{"p":"d","k":"pr","x":3.75,"y":59},{"p":"d","k":"pr","x":3.78,"y":70},{"p":"d","k":"pr","x":3.8,"y":76},{"p":"d","k":"pr","x":3.83,"y":64},{"p":"d","k":"pr","x":3.86,"y":64},{"p":"d","k":"pr","x":3.89,"y":67},{"p":"d","k":"pr","x":3.92,"y":58},{"p":"d","k":"pr","x":3.99,"y":56},{"p":"d","k":"pr","x":4.08,"y":57},{"p":"d","k":"pr","x":4.105,"y":112},{"p":"d","k":"pr","x":4.12,"y":164},{"p":"d","k":"pr","x":4.135,"y":112},{"p":"d","k":"pr","x":4.16,"y":57},{"p":"d","k":"pr","x":4.25,"y":56},{"p":"d","k":"pr","x":4.32,"y":61},{"p":"d","k":"pr","x":4.36,"y":54},{"p":"d","k":"pr","x":4.45,"y":52},{"p":"d","k":"pr","x":4.6,"y":50},{"p":"d","k":"pr","x":4.7,"y":50},{"p":"d","k":"pr","x":4.74,"y":55},{"p":"d","k":"pr","x":4.78,"y":49},{"p":"d","k":"pr","x":4.84,"y":47},{"p":"d","k":"pr","x":4.93,"y":48},{"p":"d","k":"pr","x":4.965,"y":58},{"p":"d","k":"pr","x":4.99,"y":67},{"p":"d","k":"pr","x":5.015,"y":58},{"p":"d","k":"pr","x":5.05,"y":47},{"p":"d","k":"pr","x":5.13,"y":46},{"p":"d","k":"pr","x":5.3,"y":44},{"p":"d","k":"pr","x":5.4,"y":43.5},{"p":"d","k":"pr","x":5.43,"y":48},{"p":"d","k":"pr","x":5.46,"y":43},{"p":"d","k":"pr","x":5.6,"y":42},{"p":"d","k":"pr","x":5.8,"y":41.5},{"p":"d","k":"pr","x":5.94,"y":42},{"p":"d","k":"pr","x":6.0,"y":41},{"p":"d","k":"pr","x":6.09,"y":42},{"p":"d","k":"pr","x":6.12,"y":51},{"p":"d","k":"pr","x":6.15,"y":42},{"p":"d","k":"pr","x":6.25,"y":40},{"p":"d","k":"pr","x":6.32,"y":40},{"p":"d","k":"pr","x":6.44,"y":41},{"p":"d","k":"pr","x":6.47,"y":62},{"p":"d","k":"pr","x":6.49,"y":80},{"p":"d","k":"pr","x":6.51,"y":62},{"p":"d","k":"pr","x":6.54,"y":40},{"p":"d","k":"pr","x":6.6,"y":39},{"p":"d","k":"pr","x":6.72,"y":38},{"p":"d","k":"pr","x":6.9,"y":37.5},{"p":"d","k":"pr","x":7.01,"y":38},{"p":"d","k":"pr","x":7.04,"y":64},{"p":"d","k":"pr","x":7.06,"y":86},{"p":"d","k":"pr","x":7.08,"y":64},{"p":"d","k":"pr","x":7.11,"y":38},{"p":"d","k":"pr","x":7.23,"y":37},{"p":"d","k":"pr","x":7.37,"y":36},{"p":"d","k":"pr","x":7.4,"y":38},{"p":"d","k":"pr","x":7.43,"y":36},{"p":"d","k":"pr","x":7.5,"y":34},
{"p":"d","k":"dif","x":1.5,"y":5},{"p":"d","k":"dif","x":3.05,"y":5},{"p":"d","k":"dif","x":3.07,"y":3},{"p":"d","k":"dif","x":3.09,"y":5},{"p":"d","k":"dif","x":3.48,"y":5},{"p":"d","k":"dif","x":3.52,"y":6},{"p":"d","k":"dif","x":3.55,"y":4.5},{"p":"d","k":"dif","x":3.77,"y":5},{"p":"d","k":"dif","x":3.79,"y":7.5},{"p":"d","k":"dif","x":3.81,"y":4},{"p":"d","k":"dif","x":3.83,"y":6.5},{"p":"d","k":"dif","x":3.85,"y":4.5},{"p":"d","k":"dif","x":3.87,"y":5},{"p":"d","k":"dif","x":4.1,"y":5},{"p":"d","k":"dif","x":4.12,"y":6.5},{"p":"d","k":"dif","x":4.14,"y":5.5},{"p":"d","k":"dif","x":4.74,"y":5},{"p":"d","k":"dif","x":4.76,"y":6.5},{"p":"d","k":"dif","x":4.78,"y":5},{"p":"d","k":"dif","x":7.5,"y":5},
{"p":"d","k":"tk","ph":"h-Na2CO3","x":2.25,"y":25.7},{"p":"d","k":"tk","ph":"h-Na2CO3","x":2.72,"y":25.7},{"p":"d","k":"tk","ph":"h-Na2CO3","x":3.07,"y":25.7},{"p":"d","k":"tk","ph":"h-Na2CO3","x":3.81,"y":25.7},{"p":"d","k":"tk","ph":"h-Na2CO3","x":3.89,"y":25.7},{"p":"d","k":"tk","ph":"h-Na2CO3","x":4.49,"y":25.7},{"p":"d","k":"tk","ph":"h-Na2CO3","x":4.75,"y":25.7},{"p":"d","k":"tk","ph":"h-Na2CO3","x":4.95,"y":25.7},{"p":"d","k":"tk","ph":"h-Na2CO3","x":5.12,"y":25.7},{"p":"d","k":"tk","ph":"h-Na2CO3","x":5.44,"y":25.7},{"p":"d","k":"tk","ph":"h-Na2CO3","x":5.94,"y":25.7},{"p":"d","k":"tk","ph":"h-Na2CO3","x":6.14,"y":25.7},{"p":"d","k":"tk","ph":"h-Na2CO3","x":6.43,"y":25.7},{"p":"d","k":"tk","ph":"h-Na2CO3","x":6.53,"y":25.7},{"p":"d","k":"tk","ph":"h-Na2CO3","x":6.69,"y":25.7},{"p":"d","k":"tk","ph":"h-Na2CO3","x":6.74,"y":25.7},{"p":"d","k":"tk","ph":"h-Na2CO3","x":6.91,"y":25.7},{"p":"d","k":"tk","ph":"h-Na2CO3","x":7.25,"y":25.7},{"p":"d","k":"tk","ph":"h-Na2CO3","x":7.4,"y":25.7},
{"p":"d","k":"tk","ph":"Co3O4","x":2.17,"y":15},{"p":"d","k":"tk","ph":"Co3O4","x":3.53,"y":15},{"p":"d","k":"tk","ph":"Co3O4","x":4.14,"y":15},{"p":"d","k":"tk","ph":"Co3O4","x":4.32,"y":15},{"p":"d","k":"tk","ph":"Co3O4","x":5.0,"y":15},{"p":"d","k":"tk","ph":"Co3O4","x":5.44,"y":15},{"p":"d","k":"tk","ph":"Co3O4","x":6.12,"y":15},{"p":"d","k":"tk","ph":"Co3O4","x":6.49,"y":15},{"p":"d","k":"tk","ph":"Co3O4","x":7.07,"y":15},{"p":"d","k":"tk","ph":"Co3O4","x":7.38,"y":15},{"p":"d","k":"tk","ph":"Co3O4","x":7.46,"y":15},
{"p":"d","k":"box","x":5.53,"x2":7.42,"y":123,"y2":166},
{"p":"d","k":"let","x":1.64,"y":152,"t":"d"},{"p":"d","k":"tmp","x":2.04,"y":152,"t":"T = 600 °C"},
{"p":"d","k":"hd","x":5.61,"y":154,"t":"phase"},{"p":"d","k":"hd","x":6.33,"y":154,"t":"fraction[wt.%]"},
{"p":"d","k":"tb","x":5.66,"y":141.7,"t":"h-Na₂CO₃"},{"p":"d","k":"tb","x":6.41,"y":141.7,"t":"16.2"},{"p":"d","k":"tb","x":5.66,"y":128,"t":"Co₃Co₄"},{"p":"d","k":"tb","x":6.41,"y":128,"t":"83.8"},

{"p":"e","k":"pr","x":1.5,"y":98},{"p":"e","k":"pr","x":1.6,"y":95},{"p":"e","k":"pr","x":1.7,"y":92},{"p":"e","k":"pr","x":1.78,"y":89},{"p":"e","k":"pr","x":1.81,"y":110},{"p":"e","k":"pr","x":1.83,"y":139},{"p":"e","k":"pr","x":1.85,"y":110},{"p":"e","k":"pr","x":1.87,"y":87},{"p":"e","k":"pr","x":1.95,"y":85},{"p":"e","k":"pr","x":2.05,"y":82},{"p":"e","k":"pr","x":2.12,"y":81},{"p":"e","k":"pr","x":2.135,"y":88},{"p":"e","k":"pr","x":2.15,"y":94},{"p":"e","k":"pr","x":2.165,"y":88},{"p":"e","k":"pr","x":2.18,"y":79},{"p":"e","k":"pr","x":2.3,"y":76},{"p":"e","k":"pr","x":2.45,"y":74},{"p":"e","k":"pr","x":2.6,"y":72},{"p":"e","k":"pr","x":2.67,"y":71},{"p":"e","k":"pr","x":2.69,"y":74},{"p":"e","k":"pr","x":2.71,"y":71},{"p":"e","k":"pr","x":2.85,"y":68},{"p":"e","k":"pr","x":2.97,"y":66},{"p":"e","k":"pr","x":3.0,"y":69},{"p":"e","k":"pr","x":3.03,"y":65.5},{"p":"e","k":"pr","x":3.2,"y":63},{"p":"e","k":"pr","x":3.35,"y":61},{"p":"e","k":"pr","x":3.49,"y":60},{"p":"e","k":"pr","x":3.505,"y":76},{"p":"e","k":"pr","x":3.52,"y":91},{"p":"e","k":"pr","x":3.535,"y":76},{"p":"e","k":"pr","x":3.55,"y":59},{"p":"e","k":"pr","x":3.62,"y":59},{"p":"e","k":"pr","x":3.66,"y":65},{"p":"e","k":"pr","x":3.7,"y":59},{"p":"e","k":"pr","x":3.76,"y":66},{"p":"e","k":"pr","x":3.8,"y":58},{"p":"e","k":"pr","x":3.85,"y":58},{"p":"e","k":"pr","x":3.89,"y":63},{"p":"e","k":"pr","x":3.93,"y":57},{"p":"e","k":"pr","x":4.03,"y":56},{"p":"e","k":"pr","x":4.095,"y":56},{"p":"e","k":"pr","x":4.105,"y":110},{"p":"e","k":"pr","x":4.12,"y":163},{"p":"e","k":"pr","x":4.135,"y":110},{"p":"e","k":"pr","x":4.15,"y":55},{"p":"e","k":"pr","x":4.24,"y":54},{"p":"e","k":"pr","x":4.28,"y":55},{"p":"e","k":"pr","x":4.31,"y":63},{"p":"e","k":"pr","x":4.34,"y":54},{"p":"e","k":"pr","x":4.4,"y":53},{"p":"e","k":"pr","x":4.46,"y":53},{"p":"e","k":"pr","x":4.475,"y":62},{"p":"e","k":"pr","x":4.49,"y":69},{"p":"e","k":"pr","x":4.505,"y":62},{"p":"e","k":"pr","x":4.52,"y":52},{"p":"e","k":"pr","x":4.6,"y":51},{"p":"e","k":"pr","x":4.7,"y":51},{"p":"e","k":"pr","x":4.73,"y":53},{"p":"e","k":"pr","x":4.76,"y":50},{"p":"e","k":"pr","x":4.85,"y":50},{"p":"e","k":"pr","x":4.955,"y":55},{"p":"e","k":"pr","x":4.97,"y":64},{"p":"e","k":"pr","x":4.98,"y":70},{"p":"e","k":"pr","x":4.99,"y":64},{"p":"e","k":"pr","x":5.005,"y":52},{"p":"e","k":"pr","x":5.1,"y":50},{"p":"e","k":"pr","x":5.14,"y":51},{"p":"e","k":"pr","x":5.18,"y":49},{"p":"e","k":"pr","x":5.3,"y":48},{"p":"e","k":"pr","x":5.48,"y":47},{"p":"e","k":"pr","x":5.495,"y":54},{"p":"e","k":"pr","x":5.51,"y":60},{"p":"e","k":"pr","x":5.525,"y":54},{"p":"e","k":"pr","x":5.54,"y":46},{"p":"e","k":"pr","x":5.7,"y":46},{"p":"e","k":"pr","x":5.88,"y":46},{"p":"e","k":"pr","x":6.0,"y":45},{"p":"e","k":"pr","x":6.08,"y":45},{"p":"e","k":"pr","x":6.1,"y":56},{"p":"e","k":"pr","x":6.12,"y":45},{"p":"e","k":"pr","x":6.27,"y":44},{"p":"e","k":"pr","x":6.455,"y":44},{"p":"e","k":"pr","x":6.465,"y":64},{"p":"e","k":"pr","x":6.48,"y":82},{"p":"e","k":"pr","x":6.495,"y":64},{"p":"e","k":"pr","x":6.505,"y":44},{"p":"e","k":"pr","x":6.67,"y":43},{"p":"e","k":"pr","x":6.84,"y":43},{"p":"e","k":"pr","x":6.86,"y":49},{"p":"e","k":"pr","x":6.88,"y":42},{"p":"e","k":"pr","x":6.95,"y":42},{"p":"e","k":"pr","x":7.035,"y":42},{"p":"e","k":"pr","x":7.045,"y":66},{"p":"e","k":"pr","x":7.06,"y":88},{"p":"e","k":"pr","x":7.075,"y":66},{"p":"e","k":"pr","x":7.09,"y":44},{"p":"e","k":"pr","x":7.11,"y":50},{"p":"e","k":"pr","x":7.13,"y":50},{"p":"e","k":"pr","x":7.15,"y":43},{"p":"e","k":"pr","x":7.21,"y":41},{"p":"e","k":"pr","x":7.32,"y":41},{"p":"e","k":"pr","x":7.34,"y":48},{"p":"e","k":"pr","x":7.36,"y":41},{"p":"e","k":"pr","x":7.44,"y":40},{"p":"e","k":"pr","x":7.5,"y":39},
{"p":"e","k":"dif","x":1.5,"y":3.3},{"p":"e","k":"dif","x":1.81,"y":3.3},{"p":"e","k":"dif","x":1.83,"y":8},{"p":"e","k":"dif","x":1.845,"y":1},{"p":"e","k":"dif","x":1.86,"y":3.3},{"p":"e","k":"dif","x":2.14,"y":3.3},{"p":"e","k":"dif","x":2.16,"y":4.5},{"p":"e","k":"dif","x":2.18,"y":3.3},{"p":"e","k":"dif","x":3.0,"y":3.3},{"p":"e","k":"dif","x":3.02,"y":4.5},{"p":"e","k":"dif","x":3.04,"y":3.3},{"p":"e","k":"dif","x":3.5,"y":3.3},{"p":"e","k":"dif","x":3.52,"y":2},{"p":"e","k":"dif","x":3.54,"y":4.5},{"p":"e","k":"dif","x":3.56,"y":3.3},{"p":"e","k":"dif","x":3.65,"y":3.3},{"p":"e","k":"dif","x":3.67,"y":5},{"p":"e","k":"dif","x":3.69,"y":3},{"p":"e","k":"dif","x":3.87,"y":3.3},{"p":"e","k":"dif","x":3.89,"y":5},{"p":"e","k":"dif","x":3.91,"y":3.3},{"p":"e","k":"dif","x":4.1,"y":3.3},{"p":"e","k":"dif","x":4.12,"y":7},{"p":"e","k":"dif","x":4.14,"y":2},{"p":"e","k":"dif","x":4.16,"y":4.5},{"p":"e","k":"dif","x":4.18,"y":3.3},{"p":"e","k":"dif","x":4.29,"y":3.3},{"p":"e","k":"dif","x":4.31,"y":4.5},{"p":"e","k":"dif","x":4.33,"y":3.3},{"p":"e","k":"dif","x":4.96,"y":3.3},{"p":"e","k":"dif","x":4.98,"y":5},{"p":"e","k":"dif","x":5.0,"y":3.3},{"p":"e","k":"dif","x":5.1,"y":3.3},{"p":"e","k":"dif","x":5.12,"y":5},{"p":"e","k":"dif","x":5.14,"y":3.3},{"p":"e","k":"dif","x":6.47,"y":3.3},{"p":"e","k":"dif","x":6.49,"y":2},{"p":"e","k":"dif","x":6.51,"y":3.3},{"p":"e","k":"dif","x":7.04,"y":3.3},{"p":"e","k":"dif","x":7.06,"y":5},{"p":"e","k":"dif","x":7.08,"y":3.3},{"p":"e","k":"dif","x":7.11,"y":4.5},{"p":"e","k":"dif","x":7.13,"y":3.3},{"p":"e","k":"dif","x":7.33,"y":3.3},{"p":"e","k":"dif","x":7.35,"y":5},{"p":"e","k":"dif","x":7.37,"y":3.3},{"p":"e","k":"dif","x":7.5,"y":3.3},
{"p":"e","k":"tk","ph":"Na0.74CoO2","x":1.83,"y":30},{"p":"e","k":"tk","ph":"Na0.74CoO2","x":3.67,"y":30},{"p":"e","k":"tk","ph":"Na0.74CoO2","x":4.1,"y":30},{"p":"e","k":"tk","ph":"Na0.74CoO2","x":4.21,"y":30},{"p":"e","k":"tk","ph":"Na0.74CoO2","x":4.49,"y":30},{"p":"e","k":"tk","ph":"Na0.74CoO2","x":4.94,"y":30},{"p":"e","k":"tk","ph":"Na0.74CoO2","x":5.51,"y":30},{"p":"e","k":"tk","ph":"Na0.74CoO2","x":6.15,"y":30},{"p":"e","k":"tk","ph":"Na0.74CoO2","x":6.86,"y":30},{"p":"e","k":"tk","ph":"Na0.74CoO2","x":7.11,"y":30},{"p":"e","k":"tk","ph":"Na0.74CoO2","x":7.34,"y":30},
{"p":"e","k":"tk","ph":"h-Na2CO3","x":2.25,"y":22},{"p":"e","k":"tk","ph":"h-Na2CO3","x":2.7,"y":22},{"p":"e","k":"tk","ph":"h-Na2CO3","x":3.01,"y":22},{"p":"e","k":"tk","ph":"h-Na2CO3","x":3.9,"y":22},{"p":"e","k":"tk","ph":"h-Na2CO3","x":4.74,"y":22},{"p":"e","k":"tk","ph":"h-Na2CO3","x":4.92,"y":22},{"p":"e","k":"tk","ph":"h-Na2CO3","x":5.41,"y":22},{"p":"e","k":"tk","ph":"h-Na2CO3","x":5.95,"y":22},{"p":"e","k":"tk","ph":"h-Na2CO3","x":6.01,"y":22},{"p":"e","k":"tk","ph":"h-Na2CO3","x":6.13,"y":22},{"p":"e","k":"tk","ph":"h-Na2CO3","x":6.37,"y":22},{"p":"e","k":"tk","ph":"h-Na2CO3","x":6.41,"y":22},{"p":"e","k":"tk","ph":"h-Na2CO3","x":6.66,"y":22},{"p":"e","k":"tk","ph":"h-Na2CO3","x":6.73,"y":22},{"p":"e","k":"tk","ph":"h-Na2CO3","x":7.17,"y":22},{"p":"e","k":"tk","ph":"h-Na2CO3","x":7.39,"y":22},
{"p":"e","k":"tk","ph":"h-Na2CO3b","x":3.76,"y":22},{"p":"e","k":"tk","ph":"h-Na2CO3b","x":4.5,"y":22},{"p":"e","k":"tk","ph":"h-Na2CO3b","x":5.03,"y":22},{"p":"e","k":"tk","ph":"h-Na2CO3b","x":6.9,"y":22},{"p":"e","k":"tk","ph":"h-Na2CO3b","x":7.45,"y":22},
{"p":"e","k":"tk","ph":"Co3O4","x":2.15,"y":13},{"p":"e","k":"tk","ph":"Co3O4","x":3.52,"y":13},{"p":"e","k":"tk","ph":"Co3O4","x":4.13,"y":13},{"p":"e","k":"tk","ph":"CoCO3","x":4.31,"y":13},{"p":"e","k":"tk","ph":"Co3O4","x":4.98,"y":13},{"p":"e","k":"tk","ph":"Co3O4","x":5.43,"y":13},{"p":"e","k":"tk","ph":"Co3O4","x":6.1,"y":13},{"p":"e","k":"tk","ph":"Co3O4","x":6.48,"y":13},{"p":"e","k":"tk","ph":"Co3O4","x":7.04,"y":13},{"p":"e","k":"tk","ph":"Co3O4","x":7.38,"y":13},{"p":"e","k":"tk","ph":"Co3O4","x":7.48,"y":13},
{"p":"e","k":"box","x":5.46,"x2":7.41,"y":112,"y2":167},
{"p":"e","k":"let","x":1.585,"y":153,"t":"e"},{"p":"e","k":"tmp","x":1.95,"y":155,"t":"T= 770 °C"},
{"p":"e","k":"hd","x":5.53,"y":156.7,"t":"phase"},{"p":"e","k":"hd","x":6.32,"y":156.7,"t":"fraction[wt.%]"},
{"p":"e","k":"tb","x":5.53,"y":144.7,"t":"Na₀.₇₄CoO₂"},{"p":"e","k":"tb","x":6.41,"y":144.7,"t":"20.4"},{"p":"e","k":"tb","x":5.53,"y":130.7,"t":"h-Na₂CO₃"},{"p":"e","k":"tb","x":6.41,"y":130.7,"t":"15.6"},{"p":"e","k":"tb","x":5.53,"y":118,"t":"Co₃Co₄"},{"p":"e","k":"tb","x":6.41,"y":118,"t":"64.0"},

{"p":"f","k":"pr","x":1.5,"y":64},{"p":"f","k":"pr","x":1.6,"y":63},{"p":"f","k":"pr","x":1.7,"y":62},{"p":"f","k":"pr","x":1.8,"y":61},{"p":"f","k":"pr","x":1.82,"y":110},{"p":"f","k":"pr","x":1.84,"y":163},{"p":"f","k":"pr","x":1.86,"y":110},{"p":"f","k":"pr","x":1.88,"y":59},{"p":"f","k":"pr","x":2.0,"y":58},{"p":"f","k":"pr","x":2.15,"y":57},{"p":"f","k":"pr","x":2.18,"y":58},{"p":"f","k":"pr","x":2.21,"y":56},{"p":"f","k":"pr","x":2.4,"y":55},{"p":"f","k":"pr","x":2.6,"y":53},{"p":"f","k":"pr","x":2.8,"y":52},{"p":"f","k":"pr","x":3.0,"y":51},{"p":"f","k":"pr","x":3.06,"y":52},{"p":"f","k":"pr","x":3.1,"y":50},{"p":"f","k":"pr","x":3.3,"y":49},{"p":"f","k":"pr","x":3.5,"y":47.5},{"p":"f","k":"pr","x":3.53,"y":50},{"p":"f","k":"pr","x":3.56,"y":47},{"p":"f","k":"pr","x":3.64,"y":47},{"p":"f","k":"pr","x":3.655,"y":54},{"p":"f","k":"pr","x":3.67,"y":61},{"p":"f","k":"pr","x":3.685,"y":54},{"p":"f","k":"pr","x":3.7,"y":46},{"p":"f","k":"pr","x":3.76,"y":46},{"p":"f","k":"pr","x":3.8,"y":48},{"p":"f","k":"pr","x":3.85,"y":46},{"p":"f","k":"pr","x":3.91,"y":48},{"p":"f","k":"pr","x":3.96,"y":45},{"p":"f","k":"pr","x":4.07,"y":45},{"p":"f","k":"pr","x":4.09,"y":56},{"p":"f","k":"pr","x":4.11,"y":67},{"p":"f","k":"pr","x":4.13,"y":58},{"p":"f","k":"pr","x":4.17,"y":56},{"p":"f","k":"pr","x":4.2,"y":46},{"p":"f","k":"pr","x":4.26,"y":46},{"p":"f","k":"pr","x":4.3,"y":48},{"p":"f","k":"pr","x":4.34,"y":45},{"p":"f","k":"pr","x":4.42,"y":44},{"p":"f","k":"pr","x":4.465,"y":44},{"p":"f","k":"pr","x":4.48,"y":65},{"p":"f","k":"pr","x":4.49,"y":83},{"p":"f","k":"pr","x":4.5,"y":65},{"p":"f","k":"pr","x":4.52,"y":44},{"p":"f","k":"pr","x":4.6,"y":43},{"p":"f","k":"pr","x":4.84,"y":43},{"p":"f","k":"pr","x":4.92,"y":48},{"p":"f","k":"pr","x":4.94,"y":55},{"p":"f","k":"pr","x":4.96,"y":48},{"p":"f","k":"pr","x":5.02,"y":44},{"p":"f","k":"pr","x":5.13,"y":48},{"p":"f","k":"pr","x":5.2,"y":43},{"p":"f","k":"pr","x":5.3,"y":42},{"p":"f","k":"pr","x":5.48,"y":42},{"p":"f","k":"pr","x":5.495,"y":58},{"p":"f","k":"pr","x":5.51,"y":73},{"p":"f","k":"pr","x":5.525,"y":58},{"p":"f","k":"pr","x":5.54,"y":41},{"p":"f","k":"pr","x":5.7,"y":41},{"p":"f","k":"pr","x":6.0,"y":41},{"p":"f","k":"pr","x":6.12,"y":42},{"p":"f","k":"pr","x":6.2,"y":41},{"p":"f","k":"pr","x":6.4,"y":41.5},{"p":"f","k":"pr","x":6.49,"y":45},{"p":"f","k":"pr","x":6.56,"y":41},{"p":"f","k":"pr","x":6.7,"y":41},{"p":"f","k":"pr","x":6.84,"y":41},{"p":"f","k":"pr","x":6.865,"y":48},{"p":"f","k":"pr","x":6.88,"y":55},{"p":"f","k":"pr","x":6.895,"y":48},{"p":"f","k":"pr","x":6.92,"y":40},{"p":"f","k":"pr","x":7.0,"y":40},{"p":"f","k":"pr","x":7.08,"y":41},{"p":"f","k":"pr","x":7.1,"y":52},{"p":"f","k":"pr","x":7.12,"y":57},{"p":"f","k":"pr","x":7.14,"y":51},{"p":"f","k":"pr","x":7.17,"y":41},{"p":"f","k":"pr","x":7.25,"y":40.5},{"p":"f","k":"pr","x":7.33,"y":40},{"p":"f","k":"pr","x":7.35,"y":52},{"p":"f","k":"pr","x":7.36,"y":56},{"p":"f","k":"pr","x":7.38,"y":50},{"p":"f","k":"pr","x":7.42,"y":39},{"p":"f","k":"pr","x":7.5,"y":38},
{"p":"f","k":"dif","x":1.5,"y":3.3},{"p":"f","k":"dif","x":1.82,"y":3.3},{"p":"f","k":"dif","x":1.84,"y":0},{"p":"f","k":"dif","x":1.85,"y":6},{"p":"f","k":"dif","x":1.87,"y":3.3},{"p":"f","k":"dif","x":4.09,"y":3.3},{"p":"f","k":"dif","x":4.11,"y":4.5},{"p":"f","k":"dif","x":4.13,"y":3.3},{"p":"f","k":"dif","x":4.48,"y":3.3},{"p":"f","k":"dif","x":4.5,"y":4.5},{"p":"f","k":"dif","x":4.52,"y":3.3},{"p":"f","k":"dif","x":5.49,"y":3.3},{"p":"f","k":"dif","x":5.51,"y":1.5},{"p":"f","k":"dif","x":5.53,"y":3.3},{"p":"f","k":"dif","x":7.09,"y":3.3},{"p":"f","k":"dif","x":7.11,"y":8},{"p":"f","k":"dif","x":7.13,"y":3.3},{"p":"f","k":"dif","x":7.33,"y":3.3},{"p":"f","k":"dif","x":7.36,"y":8},{"p":"f","k":"dif","x":7.38,"y":3.3},{"p":"f","k":"dif","x":7.5,"y":3.3},
{"p":"f","k":"tk","ph":"Co3O4","x":2.17,"y":32},{"p":"f","k":"tk","ph":"Co3O4","x":3.54,"y":32},{"p":"f","k":"tk","ph":"Co3O4","x":4.15,"y":32},{"p":"f","k":"tk","ph":"Co3O4","x":4.33,"y":32},{"p":"f","k":"tk","ph":"Co3O4","x":4.95,"y":32},{"p":"f","k":"tk","ph":"Co3O4","x":5.42,"y":32},{"p":"f","k":"tk","ph":"Co3O4","x":6.12,"y":32},{"p":"f","k":"tk","ph":"Co3O4","x":6.44,"y":32},{"p":"f","k":"tk","ph":"Co3O4","x":7.07,"y":32},{"p":"f","k":"tk","ph":"Co3O4","x":7.38,"y":32},{"p":"f","k":"tk","ph":"Co3O4","x":7.49,"y":32},
{"p":"f","k":"tk","ph":"Na0.74CoO2","x":1.84,"y":17.3},{"p":"f","k":"tk","ph":"Na0.74CoO2","x":3.68,"y":17.3},{"p":"f","k":"tk","ph":"Na0.74CoO2","x":4.13,"y":17.3},{"p":"f","k":"tk","ph":"Na0.74CoO2","x":4.23,"y":17.3},{"p":"f","k":"tk","ph":"Na0.74CoO2","x":4.49,"y":17.3},{"p":"f","k":"tk","ph":"Na0.74CoO2","x":4.95,"y":17.3},{"p":"f","k":"tk","ph":"Na0.74CoO2","x":5.52,"y":17.3},{"p":"f","k":"tk","ph":"Na0.74CoO2","x":6.18,"y":17.3},{"p":"f","k":"tk","ph":"Na0.74CoO2","x":6.89,"y":17.3},{"p":"f","k":"tk","ph":"Na0.74CoO2","x":7.11,"y":17.3},{"p":"f","k":"tk","ph":"Na0.74CoO2","x":7.35,"y":17.3},
{"p":"f","k":"tk","ph":"h-Na2CO3","x":2.25,"y":10.7},{"p":"f","k":"tk","ph":"h-Na2CO3","x":2.72,"y":10.7},{"p":"f","k":"tk","ph":"h-Na2CO3","x":3.07,"y":10.7},{"p":"f","k":"tk","ph":"h-Na2CO3","x":4.74,"y":10.7},{"p":"f","k":"tk","ph":"h-Na2CO3","x":4.93,"y":10.7},{"p":"f","k":"tk","ph":"h-Na2CO3","x":5.42,"y":10.7},{"p":"f","k":"tk","ph":"h-Na2CO3","x":5.95,"y":10.7},{"p":"f","k":"tk","ph":"h-Na2CO3","x":6.15,"y":10.7},{"p":"f","k":"tk","ph":"h-Na2CO3","x":6.43,"y":10.7},{"p":"f","k":"tk","ph":"h-Na2CO3","x":6.68,"y":10.7},{"p":"f","k":"tk","ph":"h-Na2CO3","x":6.73,"y":10.7},{"p":"f","k":"tk","ph":"h-Na2CO3","x":7.15,"y":10.7},{"p":"f","k":"tk","ph":"h-Na2CO3","x":7.45,"y":10.7},{"p":"f","k":"tk","ph":"h-Na2CO3","x":7.49,"y":10.7},
{"p":"f","k":"tk","ph":"h-Na2CO3b","x":3.8,"y":10.7},{"p":"f","k":"tk","ph":"h-Na2CO3b","x":3.9,"y":10.7},{"p":"f","k":"tk","ph":"h-Na2CO3b","x":4.5,"y":10.7},{"p":"f","k":"tk","ph":"h-Na2CO3b","x":5.13,"y":10.7},{"p":"f","k":"tk","ph":"h-Na2CO3b","x":6.9,"y":10.7},{"p":"f","k":"tk","ph":"h-Na2CO3b","x":7.41,"y":10.7},
{"p":"f","k":"box","x":5.62,"x2":7.42,"y":112,"y2":167},
{"p":"f","k":"let","x":1.585,"y":155,"t":"f"},{"p":"f","k":"tmp","x":2.1,"y":155,"t":"T= 780 °C"},
{"p":"f","k":"hd","x":5.66,"y":157,"t":"phase"},{"p":"f","k":"hd","x":6.34,"y":157,"t":"fraction[wt.%]"},
{"p":"f","k":"tb","x":5.66,"y":145.7,"t":"Na₀.₇₄CoO₂"},{"p":"f","k":"tb","x":6.53,"y":145.7,"t":"89.9"},{"p":"f","k":"tb","x":5.66,"y":131.3,"t":"h-Na₂CO₃"},{"p":"f","k":"tb","x":6.56,"y":131.3,"t":"2.5"},{"p":"f","k":"tb","x":5.66,"y":118,"t":"Co₃Co₄"},{"p":"f","k":"tb","x":6.6,"y":118,"t":"7.6"}
]},
"data":{"name":"d"},
"bounds":"flush",
"spacing":0,
"columns":2,
"concat":[
{"width":352,"height":173,"transform":[{"filter":"datum.p=='a'"}],
"encoding":{"x":{"field":"x","type":"quantitative","scale":{"domain":[1.5,7.5],"nice":false,"zero":false},"axis":null},
"y":{"field":"y","type":"quantitative","scale":{"domain":[0,174],"nice":false,"zero":false},"axis":{"title":null,"labels":false,"ticks":true,"tickSize":4,"tickColor":"#888888","domain":false,"grid":false,"values":[13,56,100,144]}}},
"layer":[
{"transform":[{"filter":"datum.k=='dif'"}],"mark":{"type":"line","color":"#4646ee","strokeWidth":1,"clip":true}},
{"transform":[{"filter":"datum.k=='tk'"}],"mark":{"type":"tick","orient":"vertical","size":6,"thickness":1.3},"encoding":{"color":{"field":"ph","type":"nominal","scale":{"domain":["m-Na2CO3","CoO","CoCO3","h-Na2CO3","Co3O4","Na0.74CoO2","h-Na2CO3b","Ycalc","Yobs-calc"],"range":["#2ec12e","#2b8fe0","#ec2a6a","#777777","#f5982c","#7b1f5e","#8b8bee","#111111","#3b3bea"]},"legend":null}}},
{"transform":[{"filter":"datum.k=='pr'"}],"mark":{"type":"line","color":"#e41a1a","strokeWidth":5,"strokeJoin":"round","strokeCap":"round","interpolate":"monotone","clip":true}},
{"transform":[{"filter":"datum.k=='pr'"}],"mark":{"type":"point","shape":"circle","filled":false,"color":"#f06a6a","size":26,"strokeWidth":1,"clip":true}},
{"transform":[{"filter":"datum.k=='pr'"}],"mark":{"type":"line","color":"#111111","strokeWidth":0.9,"interpolate":"monotone","clip":true}},
{"transform":[{"filter":"datum.k=='box'||datum.k=='lbox'"}],"mark":{"type":"rect","fill":"white","strokeWidth":1},"encoding":{"x2":{"field":"x2"},"y2":{"field":"y2"},"stroke":{"field":"k","type":"nominal","scale":{"domain":["box","lbox"],"range":["#dddddd","#999999"]},"legend":null}}},
{"transform":[{"filter":"datum.k=='lgl'"}],"mark":{"type":"rule","strokeWidth":2},"encoding":{"x2":{"field":"x2"},"color":{"field":"ph","type":"nominal","scale":{"domain":["m-Na2CO3","CoO","CoCO3","h-Na2CO3","Co3O4","Na0.74CoO2","h-Na2CO3b","Ycalc","Yobs-calc"],"range":["#2ec12e","#2b8fe0","#ec2a6a","#777777","#f5982c","#7b1f5e","#8b8bee","#111111","#3b3bea"]},"legend":null}}},
{"transform":[{"filter":"datum.k=='lgc'"}],"mark":{"type":"point","shape":"circle","filled":false,"color":"#e41a1a","size":40,"strokeWidth":1.2}},
{"transform":[{"filter":"datum.k=='let'"}],"mark":{"type":"text","align":"left","baseline":"alphabetic","fontSize":24,"color":"#000000"},"encoding":{"text":{"field":"t"}}},
{"transform":[{"filter":"datum.k=='tmp'"}],"mark":{"type":"text","align":"left","baseline":"alphabetic","fontSize":15,"fontWeight":"bold","color":"#1ea0ea"},"encoding":{"text":{"field":"t"}}},
{"transform":[{"filter":"datum.k=='hd'"}],"mark":{"type":"text","align":"left","baseline":"alphabetic","fontSize":9.5,"fontWeight":"bold","color":"#777777"},"encoding":{"text":{"field":"t"}}},
{"transform":[{"filter":"datum.k=='tb'"}],"mark":{"type":"text","align":"left","baseline":"alphabetic","fontSize":8.6,"color":"#999999"},"encoding":{"text":{"field":"t"}}},
{"transform":[{"filter":"datum.k=='lg'"}],"mark":{"type":"text","align":"left","baseline":"alphabetic","fontSize":8.6,"color":"#222222"},"encoding":{"text":{"field":"t"}}},
{"transform":[{"filter":"datum.k=='lgY'"}],"mark":{"type":"text","align":"left","baseline":"alphabetic","fontSize":11,"color":"#222222"},"encoding":{"text":{"field":"t"}}},
{"transform":[{"filter":"datum.k=='lgs'"}],"mark":{"type":"text","align":"left","baseline":"alphabetic","fontSize":6.5,"color":"#222222"},"encoding":{"text":{"field":"t"}}}
]},
{"width":352,"height":173,"transform":[{"filter":"datum.p=='b'"}],
"encoding":{"x":{"field":"x","type":"quantitative","scale":{"domain":[1.5,7.5],"nice":false,"zero":false},"axis":null},
"y":{"field":"y","type":"quantitative","scale":{"domain":[0,174],"nice":false,"zero":false},"axis":null}},
"layer":[
{"transform":[{"filter":"datum.k=='dif'"}],"mark":{"type":"line","color":"#4646ee","strokeWidth":1,"clip":true}},
{"transform":[{"filter":"datum.k=='tk'"}],"mark":{"type":"tick","orient":"vertical","size":6,"thickness":1.3},"encoding":{"color":{"field":"ph","type":"nominal","scale":{"domain":["m-Na2CO3","CoO","CoCO3","h-Na2CO3","Co3O4","Na0.74CoO2","h-Na2CO3b","Ycalc","Yobs-calc"],"range":["#2ec12e","#2b8fe0","#ec2a6a","#777777","#f5982c","#7b1f5e","#8b8bee","#111111","#3b3bea"]},"legend":null}}},
{"transform":[{"filter":"datum.k=='pr'"}],"mark":{"type":"line","color":"#e41a1a","strokeWidth":5,"strokeJoin":"round","strokeCap":"round","interpolate":"monotone","clip":true}},
{"transform":[{"filter":"datum.k=='pr'"}],"mark":{"type":"point","shape":"circle","filled":false,"color":"#f06a6a","size":26,"strokeWidth":1,"clip":true}},
{"transform":[{"filter":"datum.k=='pr'"}],"mark":{"type":"line","color":"#111111","strokeWidth":0.9,"interpolate":"monotone","clip":true}},
{"transform":[{"filter":"datum.k=='box'"}],"mark":{"type":"rect","fill":"white","stroke":"#dddddd","strokeWidth":1},"encoding":{"x2":{"field":"x2"},"y2":{"field":"y2"}}},
{"transform":[{"filter":"datum.k=='let'"}],"mark":{"type":"text","align":"left","baseline":"alphabetic","fontSize":24,"color":"#000000"},"encoding":{"text":{"field":"t"}}},
{"transform":[{"filter":"datum.k=='tmp'"}],"mark":{"type":"text","align":"left","baseline":"alphabetic","fontSize":15,"fontWeight":"bold","color":"#1ea0ea"},"encoding":{"text":{"field":"t"}}},
{"transform":[{"filter":"datum.k=='hd'"}],"mark":{"type":"text","align":"left","baseline":"alphabetic","fontSize":9.5,"fontWeight":"bold","color":"#777777"},"encoding":{"text":{"field":"t"}}},
{"transform":[{"filter":"datum.k=='tb'"}],"mark":{"type":"text","align":"left","baseline":"alphabetic","fontSize":8.6,"color":"#999999"},"encoding":{"text":{"field":"t"}}}
]},
{"width":352,"height":173,"transform":[{"filter":"datum.p=='c'"}],
"encoding":{"x":{"field":"x","type":"quantitative","scale":{"domain":[1.5,7.5],"nice":false,"zero":false},"axis":null},
"y":{"field":"y","type":"quantitative","scale":{"domain":[0,174],"nice":false,"zero":false},"axis":{"title":"Relative intensity [a.u.]","titleFontSize":24,"titleFontWeight":"normal","titleColor":"#000000","titlePadding":8,"labels":false,"ticks":true,"tickSize":4,"tickColor":"#888888","domain":false,"grid":false,"values":[5,46,89,132]}}},
"layer":[
{"transform":[{"filter":"datum.k=='dif'"}],"mark":{"type":"line","color":"#4646ee","strokeWidth":1,"clip":true}},
{"transform":[{"filter":"datum.k=='tk'"}],"mark":{"type":"tick","orient":"vertical","size":6,"thickness":1.3},"encoding":{"color":{"field":"ph","type":"nominal","scale":{"domain":["m-Na2CO3","CoO","CoCO3","h-Na2CO3","Co3O4","Na0.74CoO2","h-Na2CO3b","Ycalc","Yobs-calc"],"range":["#2ec12e","#2b8fe0","#ec2a6a","#777777","#f5982c","#7b1f5e","#8b8bee","#111111","#3b3bea"]},"legend":null}}},
{"transform":[{"filter":"datum.k=='pr'"}],"mark":{"type":"line","color":"#e41a1a","strokeWidth":5,"strokeJoin":"round","strokeCap":"round","interpolate":"monotone","clip":true}},
{"transform":[{"filter":"datum.k=='pr'"}],"mark":{"type":"point","shape":"circle","filled":false,"color":"#f06a6a","size":26,"strokeWidth":1,"clip":true}},
{"transform":[{"filter":"datum.k=='pr'"}],"mark":{"type":"line","color":"#111111","strokeWidth":0.9,"interpolate":"monotone","clip":true}},
{"transform":[{"filter":"datum.k=='box'"}],"mark":{"type":"rect","fill":"white","stroke":"#dddddd","strokeWidth":1},"encoding":{"x2":{"field":"x2"},"y2":{"field":"y2"}}},
{"transform":[{"filter":"datum.k=='let'"}],"mark":{"type":"text","align":"left","baseline":"alphabetic","fontSize":24,"color":"#000000"},"encoding":{"text":{"field":"t"}}},
{"transform":[{"filter":"datum.k=='tmp'"}],"mark":{"type":"text","align":"left","baseline":"alphabetic","fontSize":15,"fontWeight":"bold","color":"#1ea0ea"},"encoding":{"text":{"field":"t"}}},
{"transform":[{"filter":"datum.k=='hd'"}],"mark":{"type":"text","align":"left","baseline":"alphabetic","fontSize":9.5,"fontWeight":"bold","color":"#777777"},"encoding":{"text":{"field":"t"}}},
{"transform":[{"filter":"datum.k=='tb'"}],"mark":{"type":"text","align":"left","baseline":"alphabetic","fontSize":8.6,"color":"#999999"},"encoding":{"text":{"field":"t"}}}
]},
{"width":352,"height":173,"transform":[{"filter":"datum.p=='d'"}],
"encoding":{"x":{"field":"x","type":"quantitative","scale":{"domain":[1.5,7.5],"nice":false,"zero":false},"axis":null},
"y":{"field":"y","type":"quantitative","scale":{"domain":[0,174],"nice":false,"zero":false},"axis":null}},
"layer":[
{"transform":[{"filter":"datum.k=='dif'"}],"mark":{"type":"line","color":"#4646ee","strokeWidth":1,"clip":true}},
{"transform":[{"filter":"datum.k=='tk'"}],"mark":{"type":"tick","orient":"vertical","size":6,"thickness":1.3},"encoding":{"color":{"field":"ph","type":"nominal","scale":{"domain":["m-Na2CO3","CoO","CoCO3","h-Na2CO3","Co3O4","Na0.74CoO2","h-Na2CO3b","Ycalc","Yobs-calc"],"range":["#2ec12e","#2b8fe0","#ec2a6a","#777777","#f5982c","#7b1f5e","#8b8bee","#111111","#3b3bea"]},"legend":null}}},
{"transform":[{"filter":"datum.k=='pr'"}],"mark":{"type":"line","color":"#e41a1a","strokeWidth":5,"strokeJoin":"round","strokeCap":"round","interpolate":"monotone","clip":true}},
{"transform":[{"filter":"datum.k=='pr'"}],"mark":{"type":"point","shape":"circle","filled":false,"color":"#f06a6a","size":26,"strokeWidth":1,"clip":true}},
{"transform":[{"filter":"datum.k=='pr'"}],"mark":{"type":"line","color":"#111111","strokeWidth":0.9,"interpolate":"monotone","clip":true}},
{"transform":[{"filter":"datum.k=='box'"}],"mark":{"type":"rect","fill":"white","stroke":"#dddddd","strokeWidth":1},"encoding":{"x2":{"field":"x2"},"y2":{"field":"y2"}}},
{"transform":[{"filter":"datum.k=='let'"}],"mark":{"type":"text","align":"left","baseline":"alphabetic","fontSize":24,"color":"#000000"},"encoding":{"text":{"field":"t"}}},
{"transform":[{"filter":"datum.k=='tmp'"}],"mark":{"type":"text","align":"left","baseline":"alphabetic","fontSize":15,"fontWeight":"bold","color":"#1ea0ea"},"encoding":{"text":{"field":"t"}}},
{"transform":[{"filter":"datum.k=='hd'"}],"mark":{"type":"text","align":"left","baseline":"alphabetic","fontSize":9.5,"fontWeight":"bold","color":"#777777"},"encoding":{"text":{"field":"t"}}},
{"transform":[{"filter":"datum.k=='tb'"}],"mark":{"type":"text","align":"left","baseline":"alphabetic","fontSize":8.6,"color":"#999999"},"encoding":{"text":{"field":"t"}}}
]},
{"width":352,"height":173,"transform":[{"filter":"datum.p=='e'"}],
"encoding":{"x":{"field":"x","type":"quantitative","scale":{"domain":[1.5,7.5],"nice":false,"zero":false},"axis":{"values":[2,3,4,5,6,7],"format":"d","labelFontSize":12,"labelColor":"#222222","tickSize":3,"tickColor":"#888888","domainColor":"#aaaaaa","grid":false,"title":"2theta","titleFontSize":21,"titleFontStyle":"italic","titleFontWeight":"normal","titleColor":"#111111","titleX":346,"titleAlign":"right","titlePadding":6}},
"y":{"field":"y","type":"quantitative","scale":{"domain":[0,174],"nice":false,"zero":false},"axis":{"title":null,"labels":false,"ticks":true,"tickSize":4,"tickColor":"#888888","domain":false,"grid":false,"values":[22,89,154]}}},
"layer":[
{"transform":[{"filter":"datum.k=='dif'"}],"mark":{"type":"line","color":"#4646ee","strokeWidth":1,"clip":true}},
{"transform":[{"filter":"datum.k=='tk'"}],"mark":{"type":"tick","orient":"vertical","size":6,"thickness":1.3},"encoding":{"color":{"field":"ph","type":"nominal","scale":{"domain":["m-Na2CO3","CoO","CoCO3","h-Na2CO3","Co3O4","Na0.74CoO2","h-Na2CO3b","Ycalc","Yobs-calc"],"range":["#2ec12e","#2b8fe0","#ec2a6a","#777777","#f5982c","#7b1f5e","#8b8bee","#111111","#3b3bea"]},"legend":null}}},
{"transform":[{"filter":"datum.k=='pr'"}],"mark":{"type":"line","color":"#e41a1a","strokeWidth":5,"strokeJoin":"round","strokeCap":"round","interpolate":"monotone","clip":true}},
{"transform":[{"filter":"datum.k=='pr'"}],"mark":{"type":"point","shape":"circle","filled":false,"color":"#f06a6a","size":26,"strokeWidth":1,"clip":true}},
{"transform":[{"filter":"datum.k=='pr'"}],"mark":{"type":"line","color":"#111111","strokeWidth":0.9,"interpolate":"monotone","clip":true}},
{"transform":[{"filter":"datum.k=='box'"}],"mark":{"type":"rect","fill":"white","stroke":"#dddddd","strokeWidth":1},"encoding":{"x2":{"field":"x2"},"y2":{"field":"y2"}}},
{"transform":[{"filter":"datum.k=='let'"}],"mark":{"type":"text","align":"left","baseline":"alphabetic","fontSize":24,"color":"#000000"},"encoding":{"text":{"field":"t"}}},
{"transform":[{"filter":"datum.k=='tmp'"}],"mark":{"type":"text","align":"left","baseline":"alphabetic","fontSize":15,"fontWeight":"bold","color":"#1ea0ea"},"encoding":{"text":{"field":"t"}}},
{"transform":[{"filter":"datum.k=='hd'"}],"mark":{"type":"text","align":"left","baseline":"alphabetic","fontSize":9.5,"fontWeight":"bold","color":"#777777"},"encoding":{"text":{"field":"t"}}},
{"transform":[{"filter":"datum.k=='tb'"}],"mark":{"type":"text","align":"left","baseline":"alphabetic","fontSize":8.6,"color":"#999999"},"encoding":{"text":{"field":"t"}}}
]},
{"width":352,"height":173,"transform":[{"filter":"datum.p=='f'"}],
"encoding":{"x":{"field":"x","type":"quantitative","scale":{"domain":[1.5,7.5],"nice":false,"zero":false},"axis":{"values":[2,3,4,5,6,7],"format":"d","labelFontSize":12,"labelColor":"#222222","tickSize":3,"tickColor":"#888888","domainColor":"#aaaaaa","grid":false,"title":"[degree]","titleFontSize":21,"titleFontWeight":"normal","titleColor":"#111111","titleX":2,"titleAlign":"left","titlePadding":6}},
"y":{"field":"y","type":"quantitative","scale":{"domain":[0,174],"nice":false,"zero":false},"axis":null}},
"layer":[
{"transform":[{"filter":"datum.k=='dif'"}],"mark":{"type":"line","color":"#4646ee","strokeWidth":1,"clip":true}},
{"transform":[{"filter":"datum.k=='tk'"}],"mark":{"type":"tick","orient":"vertical","size":6,"thickness":1.3},"encoding":{"color":{"field":"ph","type":"nominal","scale":{"domain":["m-Na2CO3","CoO","CoCO3","h-Na2CO3","Co3O4","Na0.74CoO2","h-Na2CO3b","Ycalc","Yobs-calc"],"range":["#2ec12e","#2b8fe0","#ec2a6a","#777777","#f5982c","#7b1f5e","#8b8bee","#111111","#3b3bea"]},"legend":null}}},
{"transform":[{"filter":"datum.k=='pr'"}],"mark":{"type":"line","color":"#e41a1a","strokeWidth":5,"strokeJoin":"round","strokeCap":"round","interpolate":"monotone","clip":true}},
{"transform":[{"filter":"datum.k=='pr'"}],"mark":{"type":"point","shape":"circle","filled":false,"color":"#f06a6a","size":26,"strokeWidth":1,"clip":true}},
{"transform":[{"filter":"datum.k=='pr'"}],"mark":{"type":"line","color":"#111111","strokeWidth":0.9,"interpolate":"monotone","clip":true}},
{"transform":[{"filter":"datum.k=='box'"}],"mark":{"type":"rect","fill":"white","stroke":"#dddddd","strokeWidth":1},"encoding":{"x2":{"field":"x2"},"y2":{"field":"y2"}}},
{"transform":[{"filter":"datum.k=='let'"}],"mark":{"type":"text","align":"left","baseline":"alphabetic","fontSize":24,"color":"#000000"},"encoding":{"text":{"field":"t"}}},
{"transform":[{"filter":"datum.k=='tmp'"}],"mark":{"type":"text","align":"left","baseline":"alphabetic","fontSize":15,"fontWeight":"bold","color":"#1ea0ea"},"encoding":{"text":{"field":"t"}}},
{"transform":[{"filter":"datum.k=='hd'"}],"mark":{"type":"text","align":"left","baseline":"alphabetic","fontSize":9.5,"fontWeight":"bold","color":"#777777"},"encoding":{"text":{"field":"t"}}},
{"transform":[{"filter":"datum.k=='tb'"}],"mark":{"type":"text","align":"left","baseline":"alphabetic","fontSize":8.6,"color":"#999999"},"encoding":{"text":{"field":"t"}}}
]}
]
}
